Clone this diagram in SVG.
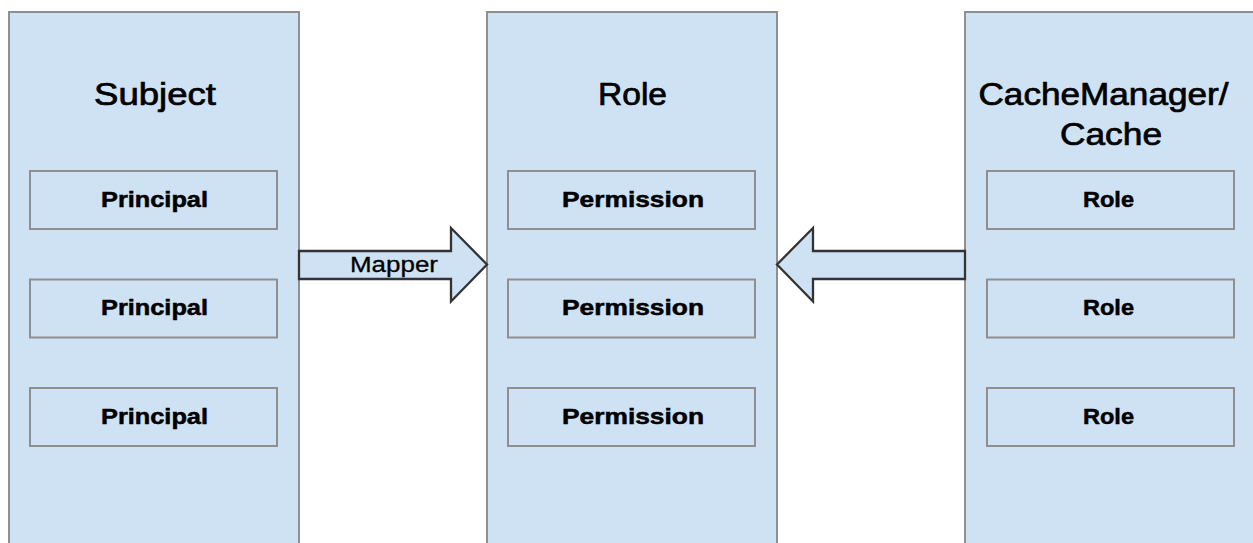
<svg xmlns="http://www.w3.org/2000/svg" width="1253" height="543" viewBox="0 0 1253 543">
<style>
.cont{fill:#cfe2f3;stroke:#8f8f8f;stroke-width:2}
.item{fill:#cfe2f3;stroke:#8f8f8f;stroke-width:2}
.hdr{font-family:"Liberation Sans",Arial,sans-serif;font-size:31px;fill:#000;stroke:#000;stroke-width:0.7px;text-anchor:middle}
.lbl{font-family:"Liberation Sans",Arial,sans-serif;font-size:21.5px;font-weight:bold;fill:#000;stroke:#000;stroke-width:0.5px;text-anchor:middle}
.arrow{fill:#cfe2f3;stroke:#333333;stroke-width:2.3;stroke-linejoin:miter}
.elbl{font-family:"Liberation Sans",Arial,sans-serif;font-size:22px;fill:#000;stroke:#000;stroke-width:0.3px;text-anchor:middle}
</style>
<rect width="1253" height="543" fill="#ffffff"/>
<g id="subject">
<rect class="cont" x="9" y="12" width="290" height="560"/>
<text class="hdr" x="155" y="105" textLength="122" lengthAdjust="spacingAndGlyphs">Subject</text>
<rect class="item" x="30" y="171" width="247" height="58"/>
<text class="lbl" x="154.5" y="206.5" textLength="107" lengthAdjust="spacingAndGlyphs">Principal</text>
<rect class="item" x="30" y="279.5" width="247" height="58"/>
<text class="lbl" x="154.5" y="315" textLength="107" lengthAdjust="spacingAndGlyphs">Principal</text>
<rect class="item" x="30" y="388" width="247" height="58"/>
<text class="lbl" x="154.5" y="423.5" textLength="107" lengthAdjust="spacingAndGlyphs">Principal</text>
</g>
<g id="role">
<rect class="cont" x="487" y="12" width="290" height="560"/>
<text class="hdr" x="632.5" y="105" textLength="69" lengthAdjust="spacingAndGlyphs">Role</text>
<rect class="item" x="508" y="171" width="247" height="58"/>
<text class="lbl" x="633" y="206.5" textLength="142" lengthAdjust="spacingAndGlyphs">Permission</text>
<rect class="item" x="508" y="279.5" width="247" height="58"/>
<text class="lbl" x="633" y="315" textLength="142" lengthAdjust="spacingAndGlyphs">Permission</text>
<rect class="item" x="508" y="388" width="247" height="58"/>
<text class="lbl" x="633" y="423.5" textLength="142" lengthAdjust="spacingAndGlyphs">Permission</text>
</g>
<g id="cache">
<rect class="cont" x="965" y="12" width="290" height="560"/>
<text class="hdr" x="1103.5" y="105" textLength="250" lengthAdjust="spacingAndGlyphs">CacheManager/</text>
<text class="hdr" x="1111" y="144.5" textLength="102" lengthAdjust="spacingAndGlyphs">Cache</text>
<rect class="item" x="987" y="171" width="247" height="58"/>
<text class="lbl" x="1108.5" y="206.5" textLength="51" lengthAdjust="spacingAndGlyphs">Role</text>
<rect class="item" x="987" y="279.5" width="247" height="58"/>
<text class="lbl" x="1108.5" y="315" textLength="51" lengthAdjust="spacingAndGlyphs">Role</text>
<rect class="item" x="987" y="388" width="247" height="58"/>
<text class="lbl" x="1108.5" y="423.5" textLength="51" lengthAdjust="spacingAndGlyphs">Role</text>
</g>
<g id="connectors">
<g id="mapper">
<polygon class="arrow" points="299,251 451,251 451,228 487,264.5 451,301.5 451,279 299,279"/>
<text class="elbl" x="394" y="271.5" textLength="88" lengthAdjust="spacingAndGlyphs">Mapper</text>
</g>
<polygon id="cache-to-role" class="arrow" points="965,251 813,251 813,228 777,264.5 813,301.5 813,279 965,279"/>
</g>
</svg>
